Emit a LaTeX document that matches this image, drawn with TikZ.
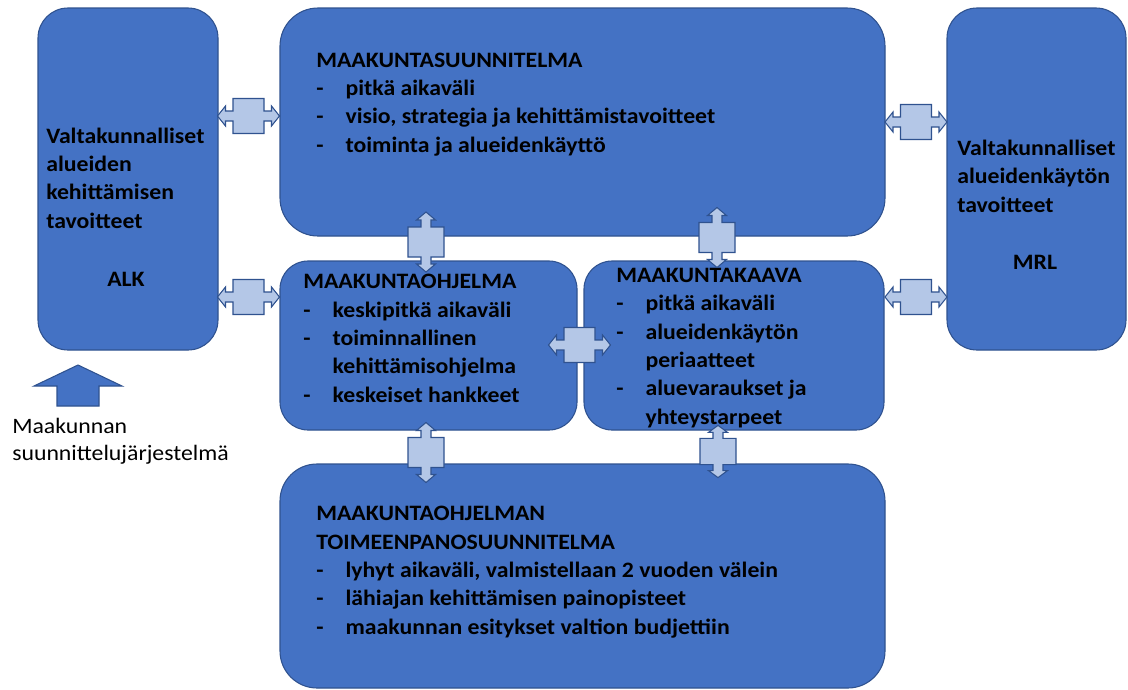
\documentclass[tikz,border=0pt]{standalone}
\usepackage{fontspec}
\setmainfont{Carlito}[FakeStretch=1.08]
\usepackage{tikz}

\definecolor{boxblue}{HTML}{4472C4}
\definecolor{boxline}{HTML}{2F528F}
\definecolor{calloutfill}{HTML}{B4C7E7}

\tikzset{
  planbox/.style={draw=boxline, fill=boxblue, line width=0.8pt, inner sep=0pt},
  boxtext/.style={inner sep=0pt, align=left, font=\bfseries\fontsize{16.5pt}{21.2pt}\selectfont},
  plainlabel/.style={inner sep=0pt, align=left, font=\fontsize{16.5pt}{20.25pt}\selectfont},
  hcallout/.pic={
    \draw[draw=boxline, fill=calloutfill, line width=0.8pt]
      (-31,0) -- (-23,-10) -- (-23,-5) -- (-15.5,-5) -- (-15.5,-17.5) -- (15.5,-17.5)
      -- (15.5,-5) -- (23,-5) -- (23,-10) -- (31,0) -- (23,10) -- (23,5) -- (15.5,5)
      -- (15.5,17.5) -- (-15.5,17.5) -- (-15.5,5) -- (-23,5) -- (-23,10) -- cycle;
  },
  vcallout/.pic={
    \draw[draw=boxline, fill=calloutfill, line width=0.8pt]
      (0,-30) -- (9.5,-22) -- (5,-22) -- (5,-15) -- (18,-15) -- (18,15)
      -- (5,15) -- (5,22) -- (9.5,22) -- (0,30) -- (-9.5,22) -- (-5,22) -- (-5,15)
      -- (-18,15) -- (-18,-15) -- (-5,-15) -- (-5,-22) -- (-9.5,-22) -- cycle;
  }
}
\newcommand{\dsh}{\makebox[22pt][l]{-}}

\begin{document}
\begin{tikzpicture}[x=0.75pt, y=-0.75pt]
\useasboundingbox (0,0) rectangle (1128,689);

% Boxes
\node[planbox, minimum width=135pt, minimum height=256.5pt, rounded corners=22.5pt] (alk) at (128,179) {};
\node[planbox, minimum width=453.75pt, minimum height=171pt, rounded corners=28.5pt] (suunn) at (582.5,122) {};
\node[planbox, minimum width=134.25pt, minimum height=256.5pt, rounded corners=22.5pt] (mrl) at (1036.5,179) {};
\node[planbox, minimum width=222.75pt, minimum height=126.75pt, rounded corners=21pt] (ohjelma) at (428.5,345.5) {};
\node[planbox, minimum width=225pt, minimum height=126.75pt, rounded corners=21pt] (kaava) at (734,345.5) {};
\node[planbox, minimum width=453.75pt, minimum height=168pt, rounded corners=27.75pt] (toim) at (582.5,576) {};

% Box texts (anchored at the last baseline)
\node[boxtext, anchor=base west] (alktext) at (46,228) {Valtakunnalliset\\alueiden\\kehittämisen\\tavoitteet};
\node[boxtext, anchor=base] (alkname) at (126,286) {ALK};

\node[boxtext, anchor=base west] (mrltext) at (957,212) {Valtakunnalliset\\alueidenkäytön\\tavoitteet};
\node[boxtext, anchor=base] (mrlname) at (1035,269) {MRL};

\node[boxtext, anchor=base west] (suunntext) at (316,152) {MAAKUNTASUUNNITELMA\\
  \dsh pitkä aikaväli\\
  \dsh visio, strategia ja kehittämistavoitteet\\
  \dsh toiminta ja alueidenkäyttö};

\node[boxtext, anchor=base west] (ohjelmatext) at (303,402) {MAAKUNTAOHJELMA\\
  \dsh keskipitkä aikaväli\\
  \dsh toiminnallinen\\
  \hspace*{22pt}kehittämisohjelma\\
  \dsh keskeiset hankkeet};

\node[boxtext, anchor=base west] (kaavatext) at (616,424) {MAAKUNTAKAAVA\\
  \dsh pitkä aikaväli\\
  \dsh alueidenkäytön\\
  \hspace*{22pt}periaatteet\\
  \dsh aluevaraukset ja\\
  \hspace*{22pt}yhteystarpeet};

\node[boxtext, anchor=base west] (toimtext) at (316,634) {MAAKUNTAOHJELMAN\\
  TOIMEENPANOSUUNNITELMA\\
  \dsh lyhyt aikaväli, valmistellaan 2 vuoden välein\\
  \dsh lähiajan kehittämisen painopisteet\\
  \dsh maakunnan esitykset valtion budjettiin};

% Planning system arrow
\draw[draw=boxline, fill=boxblue, line width=0.8pt]
  (78,365) -- (122,386) -- (99,386) -- (99,406) -- (57,406) -- (57,386) -- (34,386) -- cycle;
\node[plainlabel, anchor=base west] (jarjestelma) at (12,460) {Maakunnan\\suunnittelujärjestelmä};

% Two-way links
\pic at (248.5,116) {hcallout};
\pic at (248.5,297) {hcallout};
\pic at (916,122) {hcallout};
\pic at (916,297) {hcallout};
\pic at (579.5,345) {hcallout};
\pic at (426,242) {vcallout};
\pic at (717,237.5) {vcallout};
\pic at (426,452.5) {vcallout};
\pic[yscale=0.87] at (718,451.5) {vcallout};

\end{tikzpicture}
\end{document}
